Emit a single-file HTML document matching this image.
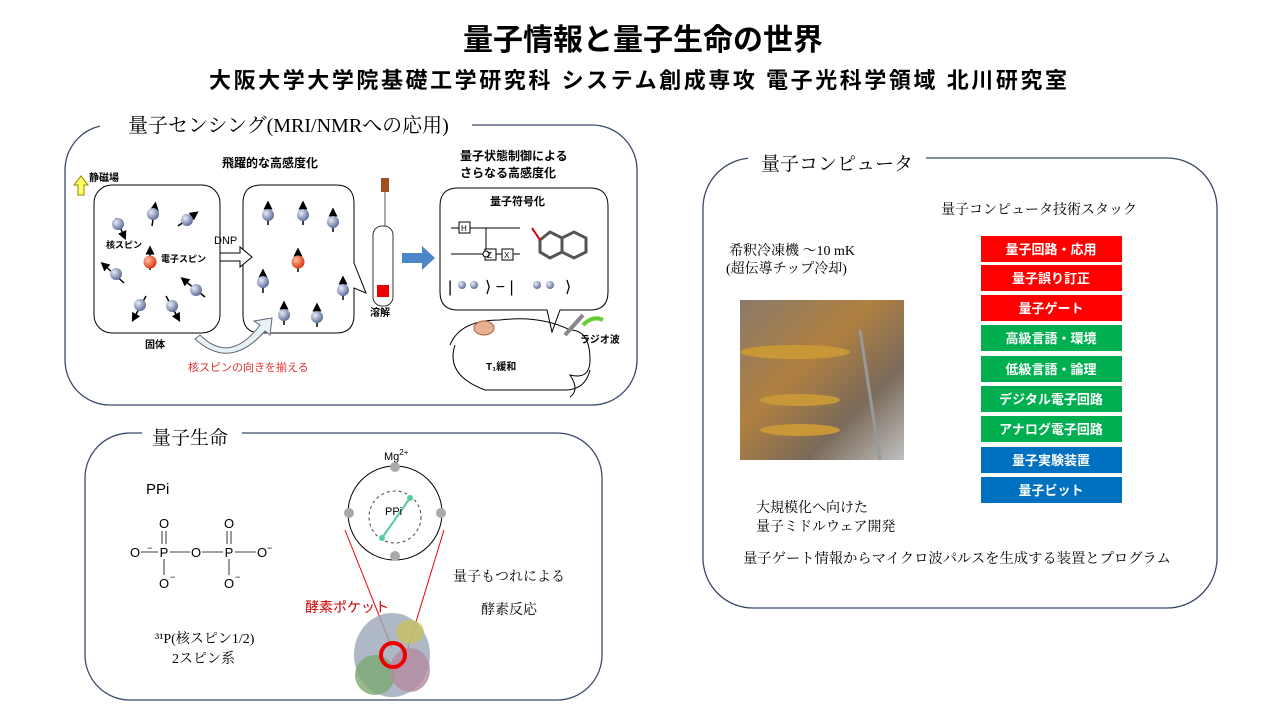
<!DOCTYPE html>
<html><head><meta charset="utf-8"><style>
html,body{margin:0;padding:0;background:#fff;}
svg{display:block;}
text{font-family:"Liberation Sans","Noto Sans CJK JP",sans-serif;}
.m{font-family:"Liberation Serif","Noto Serif CJK SC",serif;}
</style></head><body>
<svg width="1280" height="720" viewBox="0 0 1280 720" xmlns="http://www.w3.org/2000/svg">
<defs>
<radialGradient id="bs" cx="0.35" cy="0.35" r="0.7"><stop offset="0" stop-color="#e8ecf6"/><stop offset="1" stop-color="#5a6a98"/></radialGradient>
<radialGradient id="rs" cx="0.35" cy="0.35" r="0.7"><stop offset="0" stop-color="#ffc0a0"/><stop offset="1" stop-color="#d83010"/></radialGradient>
<marker id="ah" markerWidth="6" markerHeight="6" refX="3" refY="3" orient="auto"><path d="M0,0 L6,3 L0,6 z" fill="#000"/></marker>
<linearGradient id="ph" x1="0" y1="0" x2="1" y2="1"><stop offset="0" stop-color="#8a7a6a"/><stop offset="0.4" stop-color="#b08040"/><stop offset="0.7" stop-color="#7a6a5a"/><stop offset="1" stop-color="#c0c0c0"/></linearGradient>
</defs>
<text x="643" y="50" font-size="30" font-weight="bold" text-anchor="middle">量子情報と量子生命の世界</text>
<text x="638" y="88" font-size="22" font-weight="bold" text-anchor="middle" textLength="858" lengthAdjust="spacing">大阪大学大学院基礎工学研究科  システム創成専攻  電子光科学領域  北川研究室</text>

<!-- Panel 1 -->
<rect x="65" y="125" width="572" height="280" rx="45" fill="none" stroke="#3a4a6a" stroke-width="1.3"/>
<rect x="100" y="112" width="372" height="26" fill="#fff"/>
<text x="128" y="132" font-size="20" class="m">量子センシング(MRI/NMRへの応用)</text>
<text x="222" y="167" font-size="12" font-weight="bold">飛躍的な高感度化</text>
<text x="460" y="160" font-size="12" font-weight="bold">量子状態制御による</text>
<text x="460" y="177" font-size="12" font-weight="bold">さらなる高感度化</text>
<path d="M78,195 v-10 h-4 l7,-9 l7,9 h-4 v10z" fill="#ff6" stroke="#880"/>
<text x="89" y="181" font-size="10" font-weight="bold">静磁場</text>
<rect x="94" y="185" width="126" height="148" rx="18" fill="#fff" stroke="#000"/>
<path d="M243,203 q0,-18 18,-18 h75 q18,0 18,18 v60 l12,30 l-12,-5 v27 q0,18 -18,18 h-75 q-18,0 -18,-18z" fill="#fff" stroke="#000"/>
<path d="M220,253 h20 v-6 l12,10 l-12,10 v-6 h-20z" fill="#fff" stroke="#000"/>
<text x="214" y="244" font-size="11">DNP</text>
<path d="M200,335 q30,30 60,-10 l-6,-4 l18,-3 l-2,17 l-5,-4 q-35,40 -70,8z" fill="#e6f2f6" stroke="#667"/>
<text x="145" y="348" font-size="10" font-weight="bold">固体</text>
<text x="188" y="371" font-size="11" fill="#e03030">核スピンの向きを揃える</text>
<g stroke="#000" stroke-width="1.5" marker-end="url(#ah)">
<line x1="116" y1="218" x2="124" y2="236"/><line x1="152" y1="226" x2="155" y2="206"/><line x1="178" y1="226" x2="195" y2="214"/>
<line x1="150" y1="270" x2="150" y2="250"/><line x1="124" y1="283" x2="104" y2="265"/><line x1="205" y1="297" x2="184" y2="280"/>
<line x1="146" y1="296" x2="134" y2="318"/><line x1="166" y1="296" x2="178" y2="318"/>
<line x1="268" y1="225" x2="268" y2="205"/><line x1="303" y1="225" x2="303" y2="205"/><line x1="333" y1="232" x2="333" y2="212"/>
<line x1="298" y1="272" x2="298" y2="252"/><line x1="263" y1="293" x2="263" y2="273"/><line x1="343" y1="300" x2="343" y2="280"/>
<line x1="284" y1="325" x2="284" y2="305"/><line x1="317" y1="327" x2="317" y2="307"/>
</g>
<g fill="url(#bs)">
<circle cx="118" cy="224" r="6"/><circle cx="153" cy="214" r="6"/><circle cx="187" cy="220" r="6"/>
<circle cx="116" cy="274" r="6"/><circle cx="196" cy="290" r="6"/><circle cx="140" cy="305" r="6"/><circle cx="172" cy="306" r="6"/>
<circle cx="268" cy="215" r="6"/><circle cx="303" cy="215" r="6"/><circle cx="333" cy="222" r="6"/>
<circle cx="263" cy="282" r="6"/><circle cx="343" cy="290" r="6"/><circle cx="284" cy="315" r="6"/><circle cx="317" cy="317" r="6"/>
</g>
<circle cx="150" cy="262" r="6.5" fill="url(#rs)"/><circle cx="298" cy="262" r="6.5" fill="url(#rs)"/>
<text x="106" y="248" font-size="9" font-weight="bold">核スピン</text>
<text x="161" y="262" font-size="9" font-weight="bold">電子スピン</text>
<rect x="381" y="178" width="8" height="14" fill="#a05020"/><line x1="385" y1="192" x2="385" y2="280" stroke="#555"/>
<rect x="373" y="226" width="20" height="80" rx="9" fill="#fff" stroke="#333"/>
<rect x="377" y="285" width="12" height="12" fill="#e00"/>
<text x="370" y="316" font-size="10" font-weight="bold">溶解</text>
<path d="M402,253 h20 v-7 l13,12 l-13,12 v-7 h-20z" fill="#4a86c8"/>
<path d="M458,188 h132 q18,0 18,18 v86 q0,18 -18,18 h-30 l-8,22 l-5,-22 h-89 q-18,0 -18,-18 v-86 q0,-18 18,-18z" fill="#fff" stroke="#000"/>
<text x="490" y="205" font-size="11" font-weight="bold">量子符号化</text>
<g stroke="#000" fill="#fff" stroke-width="1">
<line x1="451" y1="228" x2="520" y2="228"/><line x1="451" y1="254" x2="520" y2="254"/><line x1="486" y1="228" x2="486" y2="258"/>
<rect x="459" y="222" width="11" height="11"/><rect x="485" y="249" width="11" height="11"/><rect x="502" y="249" width="11" height="11"/>
<circle cx="486" cy="254" r="3"/>
</g>
<text x="461" y="231" font-size="8">H</text><text x="487" y="258" font-size="8">Z</text><text x="504" y="258" font-size="8">X</text>
<path d="M540,240 l10,-8 l12,6 l12,-6 l12,6 v14 l-12,6 l-12,-6 l-12,6 l-10,-6z M562,238 v14" fill="none" stroke="#555" stroke-width="3"/>
<line x1="540" y1="240" x2="532" y2="228" stroke="#c00" stroke-width="2"/>
<text x="448" y="292" font-size="16">|</text><text x="485" y="292" font-size="16">⟩ − |</text><text x="565" y="292" font-size="16">⟩</text>
<circle cx="462" cy="285" r="4" fill="url(#bs)"/><circle cx="474" cy="285" r="4" fill="url(#bs)"/><circle cx="537" cy="285" r="4" fill="url(#bs)"/><circle cx="550" cy="285" r="4" fill="url(#bs)"/>
<path d="M450,345 q10,-25 50,-25 q40,-5 70,10 q20,0 20,30 q0,20 -20,15 q10,15 0,22 M455,345 q-10,30 30,45 h80 q20,0 25,-20" fill="none" stroke="#000"/>
<ellipse cx="484" cy="328" rx="10" ry="7" fill="#e8b090" stroke="#a06040"/>
<text x="486" y="370" font-size="10" font-weight="bold">T₁緩和</text>
<path d="M565,335 l18,-20" stroke="#888" stroke-width="4"/>
<path d="M583,325 q10,-10 20,-5" stroke="#6c3" stroke-width="4" fill="none"/>
<text x="580" y="343" font-size="10" font-weight="bold">ラジオ波</text>

<!-- Panel 2 -->
<rect x="85" y="433" width="517" height="267" rx="45" fill="none" stroke="#3a4a6a" stroke-width="1.3"/>
<rect x="142" y="425" width="100" height="22" fill="#fff"/>
<text x="152" y="444" font-size="19" class="m">量子生命</text>
<text x="146" y="494" font-size="15">PPi</text>
<g font-size="13" text-anchor="middle">
<text x="164" y="528">O</text><text x="229" y="528">O</text>
<text x="135" y="557">O</text><text x="164" y="557">P</text><text x="196" y="557">O</text><text x="229" y="557">P</text><text x="262" y="557">O</text>
<text x="164" y="588">O</text><text x="229" y="588">O</text>
</g>
<g stroke="#000" stroke-width="0.8"><line x1="162" y1="531" x2="162" y2="544"/><line x1="166" y1="531" x2="166" y2="544"/><line x1="227" y1="531" x2="227" y2="544"/><line x1="231" y1="531" x2="231" y2="544"/>
<line x1="141" y1="552" x2="158" y2="552"/><line x1="170" y1="552" x2="190" y2="552"/><line x1="202" y1="552" x2="223" y2="552"/><line x1="235" y1="552" x2="256" y2="552"/>
<line x1="164" y1="559" x2="164" y2="575"/><line x1="229" y1="559" x2="229" y2="575"/></g>
<text x="147" y="551" font-size="9">−</text><text x="267" y="551" font-size="9">−</text><text x="170" y="580" font-size="9">−</text><text x="235" y="580" font-size="9">−</text>
<text x="155" y="643" font-size="14" class="m">³¹P(核スピン1/2)</text>
<text x="172" y="663" font-size="14" class="m">2スピン系</text>
<text x="384" y="460" font-size="11">Mg<tspan font-size="8" dy="-5">2+</tspan></text>
<circle cx="395" cy="513" r="47" fill="none" stroke="#000"/>
<circle cx="395" cy="517" r="26" fill="none" stroke="#444" stroke-dasharray="3,3"/>
<line x1="410" y1="498" x2="382" y2="538" stroke="#5c9" stroke-width="2"/>
<circle cx="410" cy="498" r="3" fill="#5c9"/><circle cx="382" cy="538" r="3" fill="#5c9"/>
<text x="385" y="515" font-size="11">PPi</text>
<g fill="#aaa"><circle cx="395" cy="467" r="5"/><circle cx="395" cy="556" r="5"/><circle cx="349" cy="513" r="5"/><circle cx="441" cy="513" r="5"/></g>
<line x1="345" y1="530" x2="392" y2="648" stroke="#e00"/><line x1="444" y1="530" x2="408" y2="648" stroke="#e00"/>
<text x="305" y="612" font-size="14" fill="#c00">酵素ポケット</text>
<ellipse cx="392" cy="655" rx="38" ry="42" fill="#9aa6b8" opacity="0.8"/>
<ellipse cx="375" cy="675" rx="20" ry="20" fill="#7aa870" opacity="0.8"/>
<ellipse cx="410" cy="670" rx="20" ry="22" fill="#b48aa0" opacity="0.8"/>
<ellipse cx="410" cy="632" rx="14" ry="12" fill="#c8c060" opacity="0.8"/>
<circle cx="393" cy="655" r="12" fill="none" stroke="#e00" stroke-width="4"/>
<text x="453" y="581" font-size="14" class="m">量子もつれによる</text>
<text x="481" y="614" font-size="14" class="m">酵素反応</text>

<!-- Panel 3 -->
<rect x="703" y="158" width="514" height="450" rx="50" fill="none" stroke="#3a4a6a" stroke-width="1.3"/>
<rect x="748" y="150" width="178" height="22" fill="#fff"/>
<text x="761" y="170" font-size="19" class="m">量子コンピュータ</text>
<text x="941" y="214" font-size="14" class="m" textLength="196" lengthAdjust="spacingAndGlyphs">量子コンピュータ技術スタック</text>
<text x="729" y="255" font-size="14" class="m">希釈冷凍機 ～10 mK</text>
<text x="726" y="273" font-size="14" class="m">(超伝導チップ冷却)</text>
<rect x="740" y="300" width="164" height="160" fill="url(#ph)"/>
<g fill="#c89838"><ellipse cx="795" cy="352" rx="55" ry="7"/><ellipse cx="800" cy="400" rx="40" ry="6"/><ellipse cx="800" cy="430" rx="40" ry="6"/></g>
<line x1="860" y1="330" x2="880" y2="460" stroke="#999" stroke-width="3"/>
<text x="756" y="512" font-size="14" class="m">大規模化へ向けた</text>
<text x="756" y="531" font-size="14" class="m">量子ミドルウェア開発</text>
<text x="743" y="563" font-size="14" class="m" textLength="428" lengthAdjust="spacingAndGlyphs">量子ゲート情報からマイクロ波パルスを生成する装置とプログラム</text>
<g font-size="13" font-weight="bold" fill="#fff" text-anchor="middle">
<rect x="981" y="236" width="141" height="26" fill="#f00"/><text x="1051" y="254">量子回路・応用</text>
<rect x="981" y="265" width="141" height="26" fill="#f00"/><text x="1051" y="283">量子誤り訂正</text>
<rect x="981" y="295" width="141" height="26" fill="#f00"/><text x="1051" y="313">量子ゲート</text>
<rect x="981" y="325" width="141" height="26" fill="#00b050"/><text x="1051" y="343">高級言語・環境</text>
<rect x="981" y="356" width="141" height="26" fill="#00b050"/><text x="1051" y="374">低級言語・論理</text>
<rect x="981" y="386" width="141" height="26" fill="#00b050"/><text x="1051" y="404">デジタル電子回路</text>
<rect x="981" y="416" width="141" height="26" fill="#00b050"/><text x="1051" y="434">アナログ電子回路</text>
<rect x="981" y="447" width="141" height="26" fill="#0070c0"/><text x="1051" y="465">量子実験装置</text>
<rect x="981" y="477" width="141" height="26" fill="#0070c0"/><text x="1051" y="495">量子ビット</text>
</g>
</svg>
</body></html>
